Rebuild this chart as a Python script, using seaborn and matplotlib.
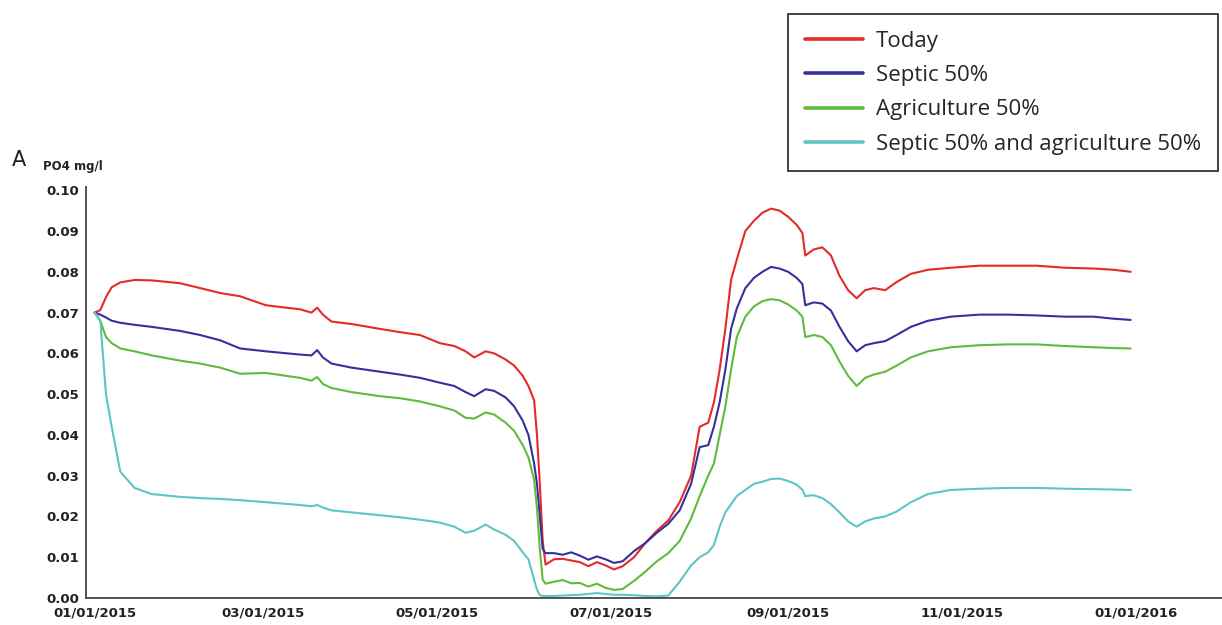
import numpy as np
import pandas as pd
import seaborn as sns
import matplotlib.pyplot as plt
import matplotlib.dates as mdates
from matplotlib.ticker import MultipleLocator

START = "2015-01-01"

# days since 01/01/2015 (shared by all four series)
DAYS = [0, 2, 4, 6, 9, 14, 20, 30, 37, 44,
        51, 60, 72, 76, 78, 80, 83, 90, 100, 107,
        114, 121, 126, 130, 133, 137, 140, 144, 147, 150,
        152, 154, 155, 156, 157, 158, 161, 164, 167, 170,
        173, 176, 179, 182, 185, 189, 193, 197, 201, 205,
        209, 212, 215, 217, 219, 221, 223, 225, 228, 231,
        234, 237, 240, 243, 246, 248, 249, 252, 255, 258,
        261, 264, 267, 270, 273, 277, 281, 286, 292, 300,
        310, 320, 330, 340, 350, 357, 363]

TODAY = [0.0700, 0.0706, 0.0738, 0.0762, 0.0774, 0.0780, 0.0779, 0.0772, 0.0760, 0.0748,
         0.0740, 0.0718, 0.0708, 0.0700, 0.0712, 0.0695, 0.0678, 0.0672, 0.0660, 0.0652,
         0.0645, 0.0625, 0.0618, 0.0605, 0.0590, 0.0605, 0.0600, 0.0585, 0.0570, 0.0545,
         0.0520, 0.0485, 0.0400, 0.0280, 0.0140, 0.0082, 0.0095, 0.0096, 0.0092, 0.0088,
         0.0078, 0.0088, 0.0080, 0.0070, 0.0078, 0.0100, 0.0135, 0.0165, 0.0190, 0.0235,
         0.0300, 0.0420, 0.0430, 0.0480, 0.0560, 0.0660, 0.0780, 0.0830, 0.0900, 0.0925,
         0.0945, 0.0955, 0.0950, 0.0935, 0.0915, 0.0895, 0.0840, 0.0855, 0.0860, 0.0840,
         0.0790, 0.0755, 0.0735, 0.0755, 0.0760, 0.0755, 0.0775, 0.0795, 0.0805, 0.0810,
         0.0815, 0.0815, 0.0815, 0.0810, 0.0808, 0.0805, 0.0800]

SEPTIC = [0.0700, 0.0695, 0.0688, 0.0680, 0.0675, 0.0670, 0.0665, 0.0655, 0.0645, 0.0632,
          0.0612, 0.0605, 0.0597, 0.0595, 0.0608, 0.0590, 0.0575, 0.0565, 0.0555, 0.0548,
          0.0540, 0.0528, 0.0520, 0.0505, 0.0495, 0.0512, 0.0508, 0.0492, 0.0470, 0.0435,
          0.0400, 0.0330, 0.0280, 0.0200, 0.0120, 0.0110, 0.0110, 0.0106, 0.0112, 0.0104,
          0.0094, 0.0102, 0.0095, 0.0086, 0.0090, 0.0115, 0.0135, 0.0160, 0.0182, 0.0215,
          0.0280, 0.0370, 0.0375, 0.0420, 0.0480, 0.0560, 0.0660, 0.0710, 0.0760, 0.0785,
          0.0800, 0.0812, 0.0808, 0.0800, 0.0785, 0.0770, 0.0718, 0.0725, 0.0722, 0.0705,
          0.0665, 0.0630, 0.0605, 0.0620, 0.0625, 0.0630, 0.0645, 0.0665, 0.0680, 0.0690,
          0.0695, 0.0695, 0.0693, 0.0690, 0.0690, 0.0685, 0.0682]

AGRI = [0.0700, 0.0680, 0.0640, 0.0625, 0.0612, 0.0605, 0.0595, 0.0582, 0.0575, 0.0565,
        0.0550, 0.0552, 0.0540, 0.0533, 0.0542, 0.0525, 0.0515, 0.0505, 0.0495, 0.0490,
        0.0482, 0.0470, 0.0460, 0.0442, 0.0440, 0.0455, 0.0450, 0.0430, 0.0410, 0.0375,
        0.0345, 0.0290, 0.0220, 0.0120, 0.0045, 0.0035, 0.0040, 0.0044, 0.0036, 0.0037,
        0.0028, 0.0035, 0.0025, 0.0020, 0.0022, 0.0042, 0.0065, 0.0090, 0.0110, 0.0140,
        0.0195, 0.0250, 0.0300, 0.0330, 0.0400, 0.0470, 0.0560, 0.0640, 0.0690, 0.0715,
        0.0728, 0.0733, 0.0730, 0.0720, 0.0705, 0.0690, 0.0640, 0.0645, 0.0640, 0.0620,
        0.0580, 0.0545, 0.0520, 0.0540, 0.0548, 0.0555, 0.0570, 0.0590, 0.0605, 0.0615,
        0.0620, 0.0622, 0.0622, 0.0618, 0.0615, 0.0613, 0.0612]

BOTH = [0.0700, 0.0680, 0.0500, 0.0420, 0.0310, 0.0270, 0.0255, 0.0248, 0.0245, 0.0243,
        0.0240, 0.0235, 0.0228, 0.0225, 0.0228, 0.0222, 0.0215, 0.0210, 0.0203, 0.0198,
        0.0192, 0.0185, 0.0175, 0.0160, 0.0165, 0.0180, 0.0168, 0.0155, 0.0140, 0.0112,
        0.0095, 0.0045, 0.0020, 0.0007, 0.0005, 0.0005, 0.0005, 0.0006, 0.0007, 0.0008,
        0.0010, 0.0012, 0.0010, 0.0008, 0.0008, 0.0007, 0.0005, 0.0004, 0.0006, 0.0040,
        0.0080, 0.0100, 0.0112, 0.0130, 0.0175, 0.0210, 0.0230, 0.0250, 0.0265, 0.0280,
        0.0285, 0.0292, 0.0293, 0.0287, 0.0278, 0.0265, 0.0250, 0.0252, 0.0245, 0.0230,
        0.0210, 0.0188, 0.0175, 0.0188, 0.0195, 0.0200, 0.0212, 0.0235, 0.0255, 0.0265,
        0.0268, 0.0270, 0.0270, 0.0268, 0.0267, 0.0266, 0.0265]

LABELS = ["Today", "Septic 50%", "Agriculture 50%", "Septic 50% and agriculture 50%"]
COLORS = ["#e42a2a", "#35309a", "#60bb3c", "#5ec5c5"]


def build_frame():
    dates = pd.Timestamp(START) + pd.to_timedelta(DAYS, unit="D")
    frames = []
    for label, vals in zip(LABELS, [TODAY, SEPTIC, AGRI, BOTH]):
        frames.append(pd.DataFrame({"date": dates, "po4": vals, "scenario": label}))
    return pd.concat(frames, ignore_index=True)


df = build_frame()

sns.set_style("white")
plt.rcParams["font.family"] = ["DejaVu Sans"]

fig = plt.figure(figsize=(12.22, 6.25), dpi=100)
ax = fig.add_axes([86 / 1222, 27 / 625, 1 - 86 / 1222, 411 / 625])

sns.lineplot(data=df, x="date", y="po4", hue="scenario", hue_order=LABELS,
             palette=dict(zip(LABELS, COLORS)), linewidth=1.5, ax=ax)

ax.set_xlim(pd.Timestamp("2014-12-29"), pd.Timestamp("2016-01-31"))
ax.set_ylim(0, 0.1008)
ax.set_xlabel("")
ax.set_ylabel("")

ax.xaxis.set_major_locator(mdates.MonthLocator(bymonth=[1, 3, 5, 7, 9, 11]))
ax.xaxis.set_major_formatter(mdates.DateFormatter("%m/%d/%Y"))
ax.yaxis.set_major_locator(MultipleLocator(0.01))
ax.yaxis.set_minor_locator(MultipleLocator(0.005))
ax.yaxis.set_major_formatter(plt.FormatStrFormatter("%.2f"))

for s in ["top", "right"]:
    ax.spines[s].set_visible(False)
for s in ["left", "bottom"]:
    ax.spines[s].set_color("#444444")
    ax.spines[s].set_linewidth(1.3)

ax.tick_params(axis="both", which="major", direction="inout", length=6, width=1,
               color="#444444", labelcolor="#222222", labelsize=9.5)
ax.tick_params(axis="y", which="minor", direction="inout", length=5, width=1,
               color="#444444")
ax.tick_params(axis="x", pad=3)
ax.tick_params(axis="y", pad=2)
for lab in ax.get_xticklabels() + ax.get_yticklabels():
    lab.set_fontweight("bold")

fig.text(12 / 1222, 1 - 160 / 625, "A", fontsize=15, va="center", ha="left",
         color="#222222")
fig.text(43 / 1222, 1 - 166 / 625, "PO4 mg/l", fontsize=8.5, fontweight="bold",
         va="center", ha="left", color="#222222")

handles, labels = ax.get_legend_handles_labels()
ax.get_legend().remove()
for h in handles:
    h.set_linewidth(2.6)
leg = fig.legend(handles, labels, loc="upper right",
                 bbox_to_anchor=(1218 / 1222, 1 - 14 / 625),
                 prop={"family": "Open Sans", "size": 16},
                 frameon=True, fancybox=False, framealpha=1,
                 handlelength=2.6, handletextpad=0.6, labelspacing=0.6,
                 borderpad=0.75, borderaxespad=0)
leg.get_frame().set_edgecolor("#222222")
leg.get_frame().set_linewidth(1.2)

fig.savefig("out.png", dpi=100)
